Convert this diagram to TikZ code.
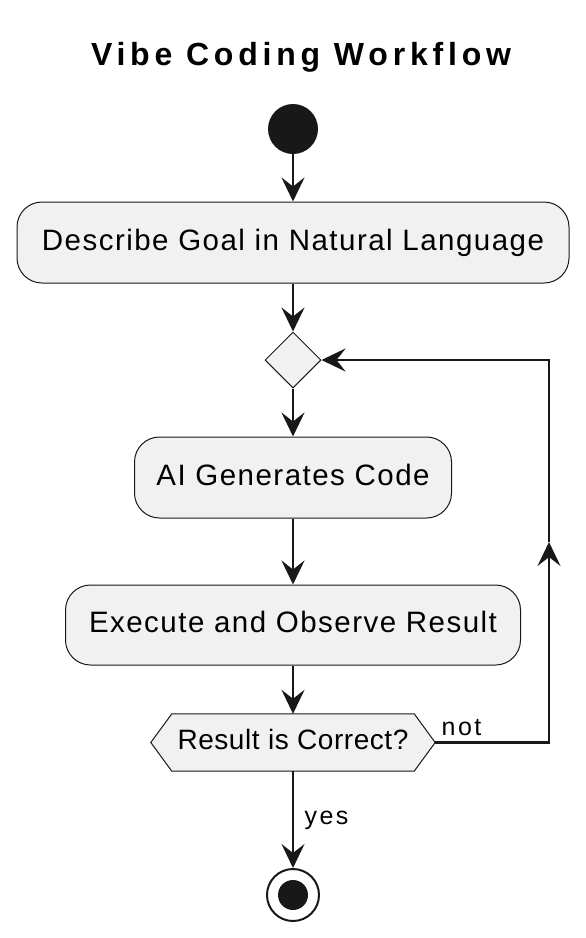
\documentclass[tikz,border=0pt]{standalone}
\usepackage{fontspec}
\setmainfont{Liberation Sans}
\newfontfamily\titlefont{Liberation Sans}[LetterSpace=15]
\newfontfamily\actfont{Liberation Sans}[LetterSpace=5]
\newfontfamily\hexfont{Liberation Sans}[LetterSpace=2]
\newfontfamily\guardfont{Liberation Sans}[LetterSpace=10]
\usetikzlibrary{arrows.meta,shapes.geometric}
\definecolor{actfill}{HTML}{F1F1F1}
\definecolor{ink}{HTML}{181818}
\tikzset{
  activity/.style = {draw=ink, fill=actfill, line width=1pt, rounded corners=25pt,
    inner sep=0pt, font=\actfont\fontsize{29.5}{31}\selectfont, text height=21pt, text depth=6pt},
  flow/.style = {draw=ink, line width=2.7pt, -{Stealth[length=24pt, width=23pt, inset=9pt]}},
  guard/.style = {font=\guardfont\fontsize{25}{27}\selectfont, inner sep=0pt}
}
\begin{document}
\begin{tikzpicture}[x=1pt, y=-1pt]
\useasboundingbox (0,0) rectangle (586,938);
\node (title) [anchor=base, font=\titlefont\bfseries\fontsize{32}{34}\selectfont] at (301,65) {Vibe Coding Workflow};
\node (start) [circle, fill=ink, minimum size=50pt, inner sep=0pt] at (293,129) {};
\node (describe) [activity, minimum width=552pt, minimum height=81pt] at (293,242.5) {Describe Goal in Natural Language};
\node (gate) [diamond, draw=ink, fill=actfill, line width=1pt, minimum width=56pt, minimum height=56pt, inner sep=0pt] at (293,360) {};
\node (generate) [activity, minimum width=317pt, minimum height=81pt] at (293,477.5) {AI Generates Code};
\node (execute) [activity, minimum width=455pt, minimum height=80pt] at (293,625) {Execute and Observe Result};
\node (check) [minimum width=242pt, minimum height=57pt, inner sep=0pt] at (293,742.5) {};
\draw [draw=ink, fill=actfill, line width=1pt] ([xshift=-21pt]check.west) -- (check.north west) -- (check.north east)
  -- ([xshift=21pt]check.east) -- (check.south east) -- (check.south west) -- cycle;
\node (checktext) [font=\hexfont\fontsize{28}{30}\selectfont, text height=20pt, text depth=6pt, inner sep=0pt] at (check) {Result is Correct?};
\node (stop) [circle, draw=ink, line width=2pt, minimum size=52pt, inner sep=0pt] at (293,895) {};
\fill [ink] (stop) circle (15pt);
\coordinate (hexright) at ([xshift=21pt]check.east);
\coordinate (loopbot) at (549,742.5);
\coordinate (loopmid) at (549,542);
\coordinate (looptop) at (549,360);
\draw [flow] (start) -- (describe);
\draw [flow] (describe) -- (gate);
\draw [flow] (gate) -- (generate);
\draw [flow] (generate) -- (execute);
\draw [flow] (execute) -- (check);
\draw [flow] (check) -- (stop);
\draw [flow] (hexright) -- (loopbot) -- (loopmid);
\draw [flow] (loopmid) -- (looptop) -- (gate.east);
\node (notlbl) [guard, anchor=base] at (461.5,735) {not};
\node (yeslbl) [guard, anchor=base] at (326.5,824) {yes};
\end{tikzpicture}
\end{document}
